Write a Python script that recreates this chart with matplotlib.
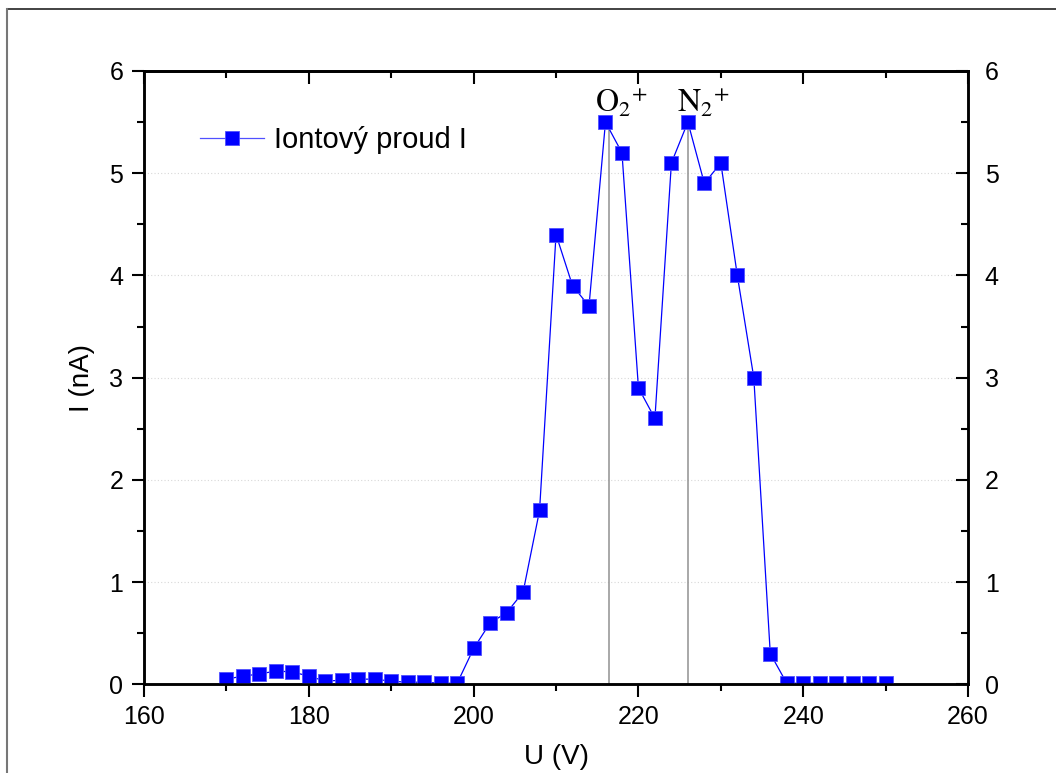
import matplotlib.pyplot as plt
from matplotlib.lines import Line2D
import numpy as np

plt.rcParams['font.family'] = ['Liberation Sans', 'DejaVu Sans']
plt.rcParams['mathtext.fontset'] = 'stix'

# measured ion current
voltage = [170, 172, 174, 176, 178, 180, 182, 184, 186, 188,
           190, 192, 194, 196, 198, 200, 202, 204, 206, 208,
           210, 212, 214, 216, 218, 220, 222, 224, 226, 228,
           230, 232, 234, 236, 238, 240, 242, 244, 246, 248, 250]
current = [0.05, 0.08, 0.10, 0.13, 0.12, 0.08, 0.03, 0.04, 0.05, 0.05,
           0.03, 0.02, 0.02, 0.01, 0.01, 0.35, 0.60, 0.70, 0.90, 1.70,
           4.40, 3.90, 3.70, 5.50, 5.20, 2.90, 2.60, 5.10, 5.50, 4.90,
           5.10, 4.00, 3.00, 0.30, 0.01, 0.01, 0.01, 0.01, 0.01, 0.01, 0.01]

peak_x = [216.45, 226.0]
peak_y = [5.5, 5.5]
peak_labels = [r'$\mathrm{O}_2{}^{+}$', r'$\mathrm{N}_2{}^{+}$']
peak_label_x = [218.0, 227.9]

fig = plt.figure(figsize=(10.56, 7.73), dpi=100)
ax = fig.add_axes([0.1364, 0.1148, 0.7803, 0.7934])

for y in range(1, 6):
    ax.axhline(y, color='#d8d8d8', lw=0.8, ls=(0, (1, 2)), zorder=0)

for px, py in zip(peak_x, peak_y):
    ax.plot([px, px], [0, py], color='#999999', lw=1.2, zorder=1)

ax.plot(voltage, current, color='blue', lw=0.9, marker='s', markersize=10,
        markerfacecolor='blue', markeredgecolor='#5050ff', markeredgewidth=0.6,
        label='Iontový proud I', zorder=3)

for lx, lab in zip(peak_label_x, peak_labels):
    ax.text(lx, 5.6, lab, fontsize=23, ha='center', va='baseline',
            family='serif')

ax.set_xlim(160, 260)
ax.set_ylim(0, 6)
ax.set_xticks(np.arange(160, 261, 20))
ax.set_xticks(np.arange(170, 260, 20), minor=True)
ax.set_yticks(np.arange(0, 7, 1))
ax.set_yticks(np.arange(0.5, 6, 1), minor=True)
ax.tick_params(which='major', direction='out', length=9, width=1.5, labelsize=18, pad=6)
ax.tick_params(which='minor', direction='out', length=5, width=1.5)
for s in ax.spines.values():
    s.set_linewidth(1.8)

ax.set_xlabel('U (V)', fontsize=20, labelpad=11)
ax.set_ylabel('I (nA)', fontsize=20, labelpad=10)

# right axis: inward ticks with labels
axr = ax.twinx()
axr.set_ylim(0, 6)
axr.set_yticks(np.arange(0, 7, 1))
axr.set_yticks(np.arange(0.5, 6, 1), minor=True)
axr.tick_params(which='major', direction='in', length=9, width=1.5, labelsize=18, pad=12)
axr.tick_params(which='minor', direction='in', length=5, width=1.5)
for s in axr.spines.values():
    s.set_linewidth(1.8)

# top axis: inward ticks without labels
axt = ax.secondary_xaxis('top')
axt.set_xticks(np.arange(160, 261, 20))
axt.set_xticks(np.arange(170, 260, 20), minor=True)
axt.tick_params(which='major', direction='in', length=9, width=1.5, labeltop=False)
axt.tick_params(which='minor', direction='in', length=5, width=1.5)
axt.spines['top'].set_linewidth(1.8)

leg = ax.legend(loc='center left', bbox_to_anchor=(0.068, 0.8875), frameon=False,
                borderpad=0, borderaxespad=0,
                fontsize=21, handlelength=2.2, handletextpad=0.35)
leg.get_lines()[0].set_color('#5050ff')
leg.get_lines()[0].set_markerfacecolor('blue')

# outer frame
fig.add_artist(Line2D([0.0066, 1.0], [0.988, 0.988], transform=fig.transFigure,
                      color='#222222', lw=1.2))
fig.add_artist(Line2D([0.0066, 0.0066], [0.0, 0.988], transform=fig.transFigure,
                      color='#777777', lw=1.5))

fig.savefig('out.png', dpi=100)
